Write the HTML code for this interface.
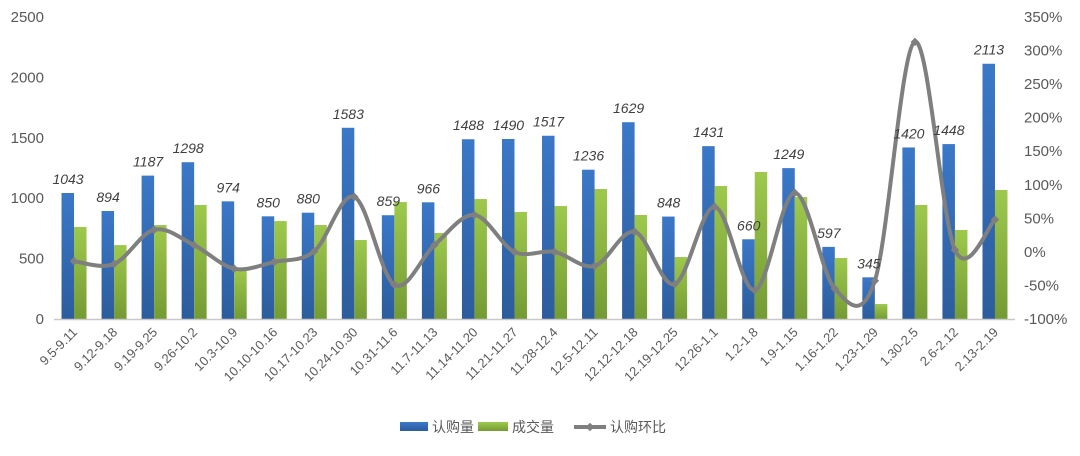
<!DOCTYPE html>
<html><head><meta charset="utf-8"><style>
body{margin:0;background:#fff;}
svg text{font-family:"Liberation Sans","Noto Sans CJK SC",sans-serif;}
</style></head><body>
<svg id="chart" width="1080" height="451" xmlns="http://www.w3.org/2000/svg">
<defs>
<linearGradient id="gb" x1="0" y1="0" x2="0" y2="1"><stop offset="0" stop-color="#3b78c8"/><stop offset="1" stop-color="#2c5c9c"/></linearGradient>
<linearGradient id="gg" x1="0" y1="0" x2="0" y2="1"><stop offset="0" stop-color="#9ec94c"/><stop offset="1" stop-color="#749b34"/></linearGradient>
</defs>
<g id="grid"></g><g id="bars"></g><g id="line"></g><g id="labels"></g><g id="axes"></g>
<g>
<rect x="400" y="422" width="28" height="9" fill="url(#gb)"/>
<text x="432" y="432" font-size="14" fill="#595959">认购量</text>
<rect x="478" y="422" width="30" height="9" fill="url(#gg)"/>
<text x="512" y="432" font-size="14" fill="#595959">成交量</text>
<line x1="574" y1="427" x2="606" y2="427" stroke="#7f7f7f" stroke-width="4"/>
<rect x="587" y="424" width="6" height="6" fill="#7f7f7f" transform="rotate(45 590 427)"/>
<text x="610" y="432" font-size="14" fill="#595959">认购环比</text>
</g>
</svg>
<script>
const categories=["9.5-9.11","9.12-9.18","9.19-9.25","9.26-10.2","10.3-10.9","10.10-10.16","10.17-10.23","10.24-10.30","10.31-11.6","11.7-11.13","11.14-11.20","11.21-11.27","11.28-12.4","12.5-12.11","12.12-12.18","12.19-12.25","12.26-1.1","1.2-1.8","1.9-1.15","1.16-1.22","1.23-1.29","1.30-2.5","2.6-2.12","2.13-2.19"];
const subscribe=[1043,894,1187,1298,974,850,880,1583,859,966,1488,1490,1517,1236,1629,848,1431,660,1249,597,345,1420,1448,2113];
const deals=[762,612,778,944,422,811,778,654,968,712,993,886,935,1076,861,513,1101,1217,1010,505,124,944,737,1068];
const ratio=[-14,-18,33,10,-25,-15,1,82,-49,10,55,0,0,-21,30,-48,67,-57,88,-55,-43,313,3,48];
const leftTicks=[0,500,1000,1500,2000,2500];
const rightTicks=[-100,-50,0,50,100,150,200,250,300,350];

const NS="http://www.w3.org/2000/svg";
const y0=319,yTop=17,x0=54,x1=1015;
const yL=v=>y0-(v/2500)*(y0-yTop);
const yR=v=>y0-((v+100)/450)*(y0-yTop);
const step=(x1-x0)/categories.length;
const xc=i=>x0+step*(i+0.5);
const bw=12.5;
function mk(tag,attrs,parent){const e=document.createElementNS(NS,tag);for(const k in attrs)e.setAttribute(k,attrs[k]);document.getElementById(parent).appendChild(e);return e;}

const ax=mk("line",{x1:x0,x2:x1,y1:y0+0.5,y2:y0+0.5,stroke:"#c8c8c8","stroke-width":1.5},"axes");


leftTicks.forEach(v=>{const t=mk("text",{x:44,y:yL(v)+5,"text-anchor":"end","font-size":15,fill:"#595959"},"axes");t.textContent=v;

});
rightTicks.forEach(v=>{const t=mk("text",{x:1024,y:yR(v)+5,"font-size":15,fill:"#595959"},"axes");t.textContent=v+"%";

});
categories.forEach((c,i)=>{const x=xc(i)+4,y=y0+14;const t=mk("text",{x:x,y:y,"text-anchor":"end","font-size":13,fill:"#595959",transform:`rotate(-45 ${x} ${y})`},"axes");t.textContent=c;

});

subscribe.forEach((v,i)=>{const r=mk("rect",{x:xc(i)-bw,y:yL(v),width:bw,height:y0-yL(v),fill:"url(#gb)"},"bars");


const t=mk("text",{x:xc(i)-6,y:yL(v)-9,"text-anchor":"middle","font-size":14,"font-style":"italic",fill:"#404040"},"labels");t.textContent=v;

});
deals.forEach((v,i)=>{const r=mk("rect",{x:xc(i),y:yL(v),width:bw,height:y0-yL(v),fill:"url(#gg)"},"bars");

});

const pts=ratio.map((v,i)=>[xc(i),yR(v)]);
let d=`M${pts[0][0]},${pts[0][1]}`;
for(let i=0;i<pts.length-1;i++){const p0=pts[Math.max(i-1,0)],p1=pts[i],p2=pts[i+1],p3=pts[Math.min(i+2,pts.length-1)];
d+=` C${p1[0]+(p2[0]-p0[0])/6},${p1[1]+(p2[1]-p0[1])/6} ${p2[0]-(p3[0]-p1[0])/6},${p2[1]-(p3[1]-p1[1])/6} ${p2[0]},${p2[1]}`;}
const ln=mk("path",{d:d,fill:"none",stroke:"#7f7f7f","stroke-width":4,"stroke-linejoin":"round"},"line");


pts.forEach(p=>{const m=mk("rect",{x:p[0]-3,y:p[1]-3,width:6,height:6,fill:"#7f7f7f",transform:`rotate(45 ${p[0]} ${p[1]})`},"line");

});
</script>
</body></html>
